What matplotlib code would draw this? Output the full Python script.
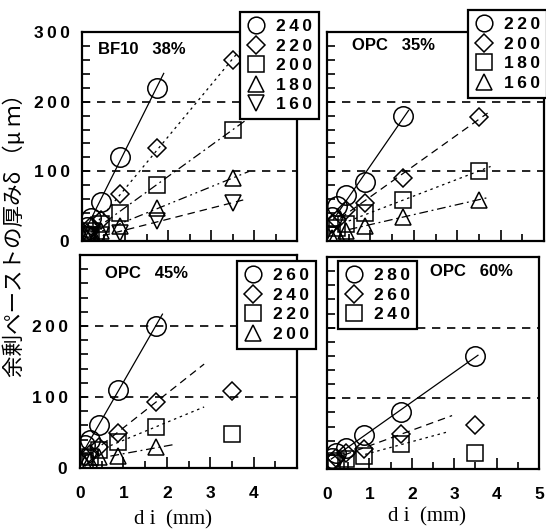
import numpy as np
import matplotlib.pyplot as plt
from matplotlib.lines import Line2D
from matplotlib.ticker import MultipleLocator

# aggregate size di (mm), shared by every mix
di = np.array([0.11, 0.22, 0.44, 0.875, 1.75, 3.5])

# BF10 38%  -- thickness of excess paste (um)
bf38_labels = ['240', '220', '200', '180', '160']
bf38_240 = [20, 33, 56, 120, 220, np.nan]
bf38_220 = [12, 22, 30, 68, 133, 260]
bf38_200 = [8, 15, 25, 40, 81, 160]
bf38_180 = [5, 10, 15, 22, 48, 90]
bf38_160 = [3, 6, 8, 12, 28, 55]

# OPC 35%
opc35_labels = ['220', '200', '180', '160']
opc35_220 = [35, 50, 66, 84, 180, np.nan]
opc35_200 = [25, 30, 45, 55, 90, 178]
opc35_180 = [10, 18, 25, 40, 59, 100]
opc35_160 = [5, 10, 15, 22, 35, 59]

# OPC 45%
opc45_labels = ['260', '240', '220', '200']
opc45_260 = [33, 40, 60, 110, 200, np.nan]
opc45_240 = [15, 20, 30, 50, 93, 109]
opc45_220 = [10, 15, 25, 36, 58, 48]
opc45_200 = [5, 10, 15, 17, 29, np.nan]

# OPC 60%
opc60_labels = ['280', '260', '240']
opc60_280 = [15, 22, 30, 48, 80, 160]
opc60_260 = [10, 15, 22, 28, 50, 62]
opc60_240 = [8, 12, 14, 19, 35, 23]

W, H = 546, 529
fig = plt.figure(figsize=(W / 100, H / 100), dpi=100)

num_font = ['Liberation Sans', 'DejaVu Sans']


def spaced(s):
    return '\u2009'.join(s)


def fx(px):
    return px / W


def fy(py):
    return 1 - py / H


DOT = (0, (2, 3))
DASH = (0, (6, 4))
DASHDOT = (0, (7, 3, 1.5, 3))
DASHDOTDOT = (0, (7, 3, 1.5, 3, 1.5, 3))

MS = {'o': 14, 'D': 9, 's': 11, '^': 12, 'v': 12}
LEG_MS = {'o': 12, 'D': 9, 's': 11, '^': 12, 'v': 12}

panels = [
    dict(rect=(82, 32, 297, 241), title=('BF10', '38%'), title_xy=(98, 49),
         series=[bf38_240, bf38_220, bf38_200, bf38_180, bf38_160], labels=bf38_labels,
         markers=['o', 'D', 's', '^', 'v'], styles=['-', DOT, DASHDOT, DASHDOTDOT, DASH],
         spans=[(0.05, 1.9), (0.3, 3.64), (0.2, 3.96), (0.2, 3.88), (0.2, 3.83)],
         fit_max=3.5, leg_xy=(240, 12), xlabels=False, ylabels=[0, 100, 200, 300]),
    dict(rect=(327, 32, 544, 241), title=('OPC', '35%'), title_xy=(352, 45),
         series=[opc35_220, opc35_200, opc35_180, opc35_160], labels=opc35_labels,
         markers=['o', 'D', 's', '^'], styles=['-', DASH, DOT, DASHDOT],
         spans=[(0.15, 1.88), (0.3, 3.7), (0.5, 3.77), (0.5, 3.7)],
         fit_max=3.5, leg_xy=(468, 10), xlabels=False, ylabels=[]),
    dict(rect=(80, 255, 297, 468), title=('OPC', '45%'), title_xy=(105, 273),
         series=[opc45_260, opc45_240, opc45_220, opc45_200], labels=opc45_labels,
         markers=['o', 'D', 's', '^'], styles=['-', DASH, DOT, DASHDOT],
         spans=[(0.1, 1.9), (0.5, 2.86), (0.7, 2.86), (0.7, 2.14)],
         fit_max=1.75, leg_xy=(237, 261), xlabels=True, ylabels=[0, 100, 200]),
    dict(rect=(327, 257, 539, 469), title=('OPC', '60%'), title_xy=(430, 271),
         series=[opc60_280, opc60_260, opc60_240], labels=opc60_labels,
         markers=['o', 'D', 's'], styles=['-', DASH, DOT],
         spans=[(0.1, 3.56), (0.4, 2.95), (0.9, 2.83)],
         fit_max=1.75, leg_xy=(338, 261), xlabels=True, ylabels=[]),
]

for p in panels:
    x0, y0, x1, y1 = p['rect']
    ax = fig.add_axes([fx(x0), fy(y1), (x1 - x0) / W, (y1 - y0) / H])
    ax.set_xlim(0, 5)
    ax.set_ylim(0, 300)
    for s in ax.spines.values():
        s.set_linewidth(1.6)

    for yv in (100, 200):
        ax.axhline(yv, color='black', lw=1.2, ls=(0, (5, 4)), zorder=1)

    for k, (vals, m, ls, span) in enumerate(zip(p['series'], p['markers'], p['styles'], p['spans'])):
        vals = np.array(vals, dtype=float)
        ok = ~np.isnan(vals)
        ax.plot(di[ok], vals[ok], ls='none', marker=m, ms=MS[m], mfc='none',
                mec='black', mew=1.1, zorder=3)
        # least-squares line through the larger-size points
        lim = p['fit_max'] if k > 0 else 3.5
        sel = ok & (di >= 0.4) & (di <= lim)
        slope, icpt = np.polyfit(di[sel], vals[sel], 1)
        xs = np.array(span)
        ax.plot(xs, slope * xs + icpt, color='black', lw=0.9, ls=ls, zorder=2)

    ax.xaxis.set_major_locator(MultipleLocator(1))
    ax.xaxis.set_minor_locator(MultipleLocator(0.5))
    ax.yaxis.set_major_locator(MultipleLocator(100))
    ax.yaxis.set_minor_locator(MultipleLocator(20))
    ax.tick_params(which='both', direction='in', width=1.2, top=False, right=False)
    ax.tick_params(axis='x', which='major', length=8, pad=13)
    ax.tick_params(axis='x', which='minor', length=5)
    ax.tick_params(axis='y', which='both', length=6, pad=9)

    if p['xlabels']:
        ticks = [0, 1, 2, 3, 4] if x1 < 300 else [0, 1, 2, 3, 4, 5]
        ax.set_xticks(ticks)
        ax.set_xticklabels(['%d' % v for v in ticks])
        ax.set_xlim(0, 5)
    else:
        ax.set_xticklabels([])
    ax.set_yticks([0, 100, 200, 300])
    ylabs = p['ylabels']
    ax.set_yticklabels([spaced(str(v)) if v in ylabs else '' for v in [0, 100, 200, 300]])
    for t in ax.get_xticklabels() + ax.get_yticklabels():
        t.set_family(num_font)
        t.set_fontweight('bold')
        t.set_fontsize(12.5)

    name, pct = p['title']
    fig.text(fx(p['title_xy'][0]), fy(p['title_xy'][1]), name + '   ' + pct,
             family=num_font, fontsize=12, fontweight='bold', ha='left', va='center')

    handles = [Line2D([], [], ls='none', marker=m, ms=LEG_MS[m], mfc='none',
                      mec='black', mew=1.1) for m in p['markers']]
    leg = ax.legend(handles, [spaced(l) for l in p['labels']], loc='upper left',
                    bbox_to_anchor=(fx(p['leg_xy'][0]), fy(p['leg_xy'][1])),
                    bbox_transform=fig.transFigure, borderaxespad=0,
                    frameon=True, fancybox=False, framealpha=1, edgecolor='black',
                    handlelength=1.1, handletextpad=0.55, labelspacing=0.25,
                    borderpad=0.4, prop=dict(family=num_font, weight='bold', size=12.5))
    leg.get_frame().set_linewidth(1.6)
    leg.set_zorder(10)

# x-axis labels under the bottom row
serif = ['Liberation Serif', 'DejaVu Serif']
fig.text(fx(173), fy(520), 'd i  (mm)', family=serif, fontsize=15, ha='center', va='center')
fig.text(fx(427), fy(517), 'd i  (mm)', family=serif, fontsize=15, ha='center', va='center')

# shared y-axis label
fig.text(fx(15), fy(230), '余剰ペーストの厚みδ （μ ｍ）', family=['Noto Sans CJK JP', 'DejaVu Sans'],
         fontsize=15.5, rotation=90, ha='center', va='center')

fig.savefig('out.png', dpi=100)
